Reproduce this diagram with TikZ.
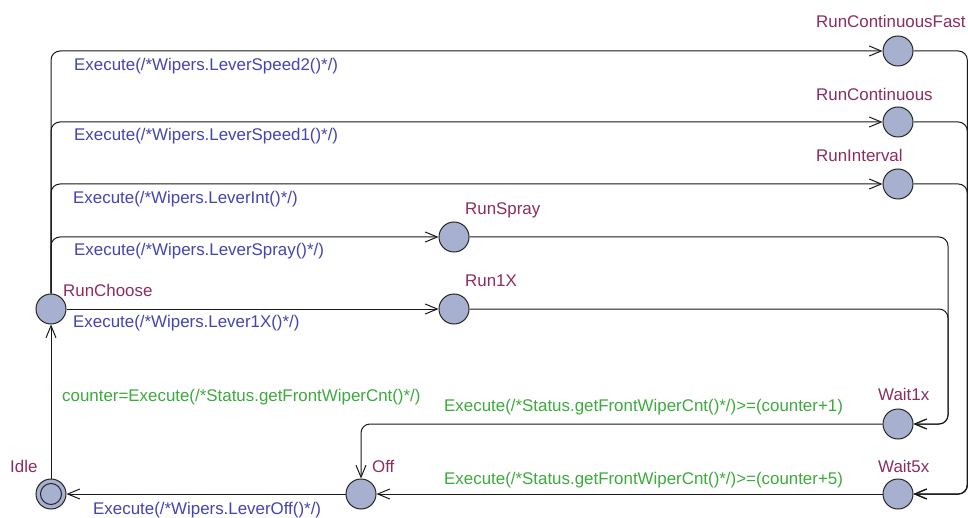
\documentclass[tikz,border=0pt]{standalone}
\usepackage{fontspec}
\setmainfont{Liberation Sans}
\usetikzlibrary{arrows.meta}
\definecolor{locname}{RGB}{140,45,95}
\definecolor{upd}{RGB}{68,68,178}
\definecolor{grd}{RGB}{60,170,60}
\definecolor{locfill}{RGB}{168,176,207}
\begin{document}
\begin{tikzpicture}[x=1pt,y=-1pt,
  loc/.style={circle, draw=black!85, fill=locfill, minimum size=30pt, inner sep=0pt, line width=1pt},
  trans/.style={draw=black!90, line width=1pt, rounded corners=9pt, -{Straight Barb[length=12pt,width=10pt,line width=1pt]}},
  lname/.style={anchor=base west, inner sep=0pt, text=locname, font=\fontsize{16.9}{19}\selectfont},
  lupd/.style={anchor=base west, inner sep=0pt, text=upd, font=\fontsize{16.9}{19}\selectfont},
  lgrd/.style={anchor=base west, inner sep=0pt, text=grd, font=\fontsize{16.9}{19}\selectfont}]
\useasboundingbox (0,0) rectangle (968,518);
\fill[white] (0,0) rectangle (968,518);
% locations
\node[loc] (idle) at (51,494) {};
\draw[black!85, line width=1pt] (idle.center) circle (10.5pt);
\node[loc] (rc) at (51,309) {};
\node[loc] (off) at (361,494) {};
\node[loc] (r1x) at (454,309) {};
\node[loc] (rsp) at (454,237) {};
\node[loc] (rint) at (898,184) {};
\node[loc] (rcon) at (898,122) {};
\node[loc] (rcf) at (898,51) {};
\node[loc] (w1) at (898,424) {};
\node[loc] (w5) at (898,494) {};
\coordinate (rxa) at (967.3,0);
\coordinate (rxb) at (948,0);
% location names
\node[lname] (nidle) at (10,472) {Idle};
\node[lname] (nrc) at (63,297) {RunChoose};
\node[lname] (noff) at (372,472) {Off};
\node[lname] (nr1x) at (465,287) {Run1X};
\node[lname] (nrsp) at (465,215) {RunSpray};
\node[lname] (nrint) at (816,162) {RunInterval};
\node[lname] (nrcon) at (816,101) {RunContinuous};
\node[lname] (nrcf) at (816,28) {RunContinuousFast};
\node[lname] (nw1) at (878,400) {Wait1x};
\node[lname] (nw5) at (878,472) {Wait5x};
% transitions
\draw[trans] (idle.north) -- (rc.south);
\draw[trans] (rc.east) -- (r1x.west);
\draw[trans] (rc.north) |- (rsp.west);
\draw[trans] (rc.north) |- (rint.west);
\draw[trans] (rc.north) |- (rcon.west);
\draw[trans] (rc.north) |- (rcf.west);
\draw[trans] (rcf.east) -| (rxa |- w5.east) -- (w5.east);
\draw[trans] (rcon.east) -| (rxa |- w5.east) -- (w5.east);
\draw[trans] (rint.east) -| (rxa |- w5.east) -- (w5.east);
\draw[trans] (rsp.east) -| (rxb |- w1.east) -- (w1.east);
\draw[trans] (r1x.east) -| (rxb |- w1.east) -- (w1.east);
\draw[trans] (w1.west) -| (off.north);
\draw[trans] (w5.west) -- (off.east);
\draw[trans] (off.west) -- (idle.east);
% transition labels
\node[lupd] (t1) at (74,71) {Execute(/*Wipers.LeverSpeed2()*/)};
\node[lupd] (t2) at (74,141) {Execute(/*Wipers.LeverSpeed1()*/)};
\node[lupd] (t3) at (73,204) {Execute(/*Wipers.LeverInt()*/)};
\node[lupd] (t4) at (74,256) {Execute(/*Wipers.LeverSpray()*/)};
\node[lupd] (t5) at (73,327) {Execute(/*Wipers.Lever1X()*/)};
\node[lgrd] (t6) at (62,401) {counter=Execute(/*Status.getFrontWiperCnt()*/)};
\node[lgrd] (t7) at (444,411) {Execute(/*Status.getFrontWiperCnt()*/)>=(counter+1)};
\node[lgrd] (t8) at (444,484) {Execute(/*Status.getFrontWiperCnt()*/)>=(counter+5)};
\node[lupd] (t9) at (93,514) {Execute(/*Wipers.LeverOff()*/)};
\end{tikzpicture}
\end{document}
